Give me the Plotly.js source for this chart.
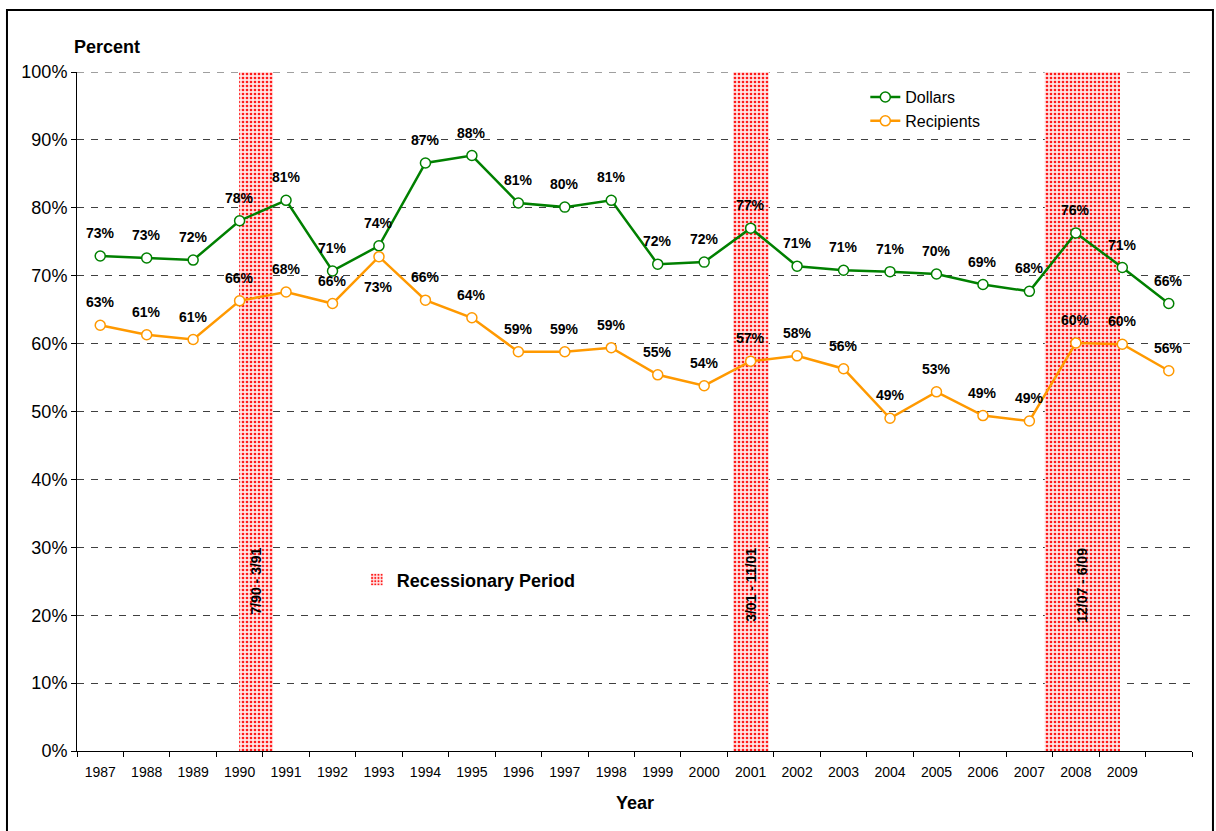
<!DOCTYPE html>
<html>
<head>
<meta charset="utf-8">
<script src="https://cdn.plot.ly/plotly-3.0.1.min.js"></script>
<style>html,body{margin:0;padding:0;background:#fff;}#chart{width:1216px;height:831px;}</style>
</head>
<body>
<div id="chart"></div>
<script>
// Category tick labels (24 categories; the last one is unlabeled in the original)
const yearLabels = ['1987','1988','1989','1990','1991','1992','1993','1994','1995','1996','1997','1998',
  '1999','2000','2001','2002','2003','2004','2005','2006','2007','2008','2009',''];

// Series values (percent)
const dollars = [72.9, 72.6, 72.3, 78.1, 81.1, 70.7, 74.4, 86.6, 87.7, 80.7, 80.1, 81.1,
  71.7, 72.0, 77.0, 71.4, 70.8, 70.6, 70.25, 68.7, 67.7, 76.3, 71.2, 65.9];
const recipients = [62.7, 61.3, 60.6, 66.3, 67.6, 65.9, 72.8, 66.4, 63.8, 58.8, 58.8, 59.4,
  55.4, 53.8, 57.4, 58.2, 56.3, 49.0, 52.9, 49.4, 48.6, 60.1, 59.9, 56.0];

// Recessionary periods, given as positions on the category index scale
const recLabels = ['7/90 - 3/91', '3/01 - 11/01', '12/07 - 6/09'];
const recStart = [2.99, 13.62, 20.33];
const recEnd = [3.72, 14.39, 21.95];

const FONT = 'Arial, "Liberation Sans", sans-serif';
const GREEN = '#008000';
const ORANGE = '#FF9900';
const YMAX = 100;

const idx = yearLabels.map((_, i) => i);
const recMid = recStart.map((s, i) => (s + recEnd[i]) / 2);
const recWidth = recStart.map((s, i) => recEnd[i] - s);

const traces = [
  {
    type: 'bar', name: 'Recessionary Period', legend: 'legend2',
    x: recMid, y: recMid.map(() => YMAX), base: 0, width: recWidth,
    marker: {
      color: '#ffe4e4', line: {width: 0},
      pattern: {shape: '.', fgcolor: '#ff1a1a', bgcolor: '#ffe6e6', size: 4, solidity: 0.35}
    },
    hoverinfo: 'skip'
  },
  {
    type: 'scatter', mode: 'lines+markers', name: 'Dollars', x: idx, y: dollars,
    line: {color: GREEN, width: 2.5},
    marker: {symbol: 'circle', size: 10, color: '#ffffff', line: {color: GREEN, width: 1.5}}
  },
  {
    type: 'scatter', mode: 'lines+markers', name: 'Recipients', x: idx, y: recipients,
    line: {color: ORANGE, width: 2.5},
    marker: {symbol: 'circle', size: 10, color: '#ffffff', line: {color: ORANGE, width: 1.5}}
  }
];

const annotations = [];
dollars.forEach((v, i) => {
  annotations.push({x: i, y: v, xref: 'x', yref: 'y', text: Math.round(v) + '%', showarrow: false,
    yshift: 23, font: {family: FONT, size: 14, color: '#000', weight: 'bold'}});
});
recipients.forEach((v, i) => {
  const below = (i === 6);
  annotations.push({x: i, y: v, xref: 'x', yref: 'y', text: Math.round(v) + '%', showarrow: false,
    yshift: below ? -30 : 23, font: {family: FONT, size: 14, color: '#000', weight: 'bold'}});
});
recLabels.forEach((t, i) => {
  annotations.push({x: recMid[i], y: 30.2, xref: 'x', yref: 'y', text: '<b>' + t + '</b>', showarrow: false,
    textangle: -90, yanchor: 'top', xanchor: 'center', font: {family: FONT, size: 14, color: '#000'}});
});
annotations.push({x: -0.0045, y: 1.0368, xref: 'paper', yref: 'paper', xanchor: 'left', yanchor: 'middle',
  text: '<b>Percent</b>', showarrow: false, font: {family: FONT, size: 18, color: '#000'}});
annotations.push({x: 0.5, y: -0.0766, xref: 'paper', yref: 'paper', xanchor: 'center', yanchor: 'middle',
  text: '<b>Year</b>', showarrow: false, font: {family: FONT, size: 18, color: '#000'}});

const layout = {
  width: 1216, height: 831,
  margin: {l: 77, r: 24, t: 72, b: 80},
  paper_bgcolor: '#ffffff', plot_bgcolor: '#ffffff',
  font: {family: FONT, color: '#000'},
  showlegend: true,
  hovermode: false,
  barmode: 'overlay',
  xaxis: {
    type: 'linear', range: [-0.5, yearLabels.length - 0.5],
    tickmode: 'array', tickvals: idx, ticktext: yearLabels,
    ticks: '', showgrid: false, zeroline: false,
    showline: true, linecolor: '#000', linewidth: 1,
    tickfont: {family: FONT, size: 14, color: '#000'},
    ticklabelstandoff: 8,
    minor: {tickmode: 'array', tickvals: idx.concat([yearLabels.length]).map(i => i - 0.5),
      ticks: 'outside', ticklen: 5, tickcolor: '#000', tickwidth: 1, showgrid: false}
  },
  yaxis: {
    range: [0, YMAX], dtick: 10, tick0: 0, ticksuffix: '%',
    showgrid: true, gridcolor: '#404040', gridwidth: 1, griddash: '7px,7px',
    zeroline: false, showline: true, linecolor: '#000', linewidth: 1,
    ticks: 'outside', ticklen: 5, tickcolor: '#000',
    tickfont: {family: FONT, size: 18, color: '#000'}
  },
  legend: {
    x: 0.707, y: 0.988, xanchor: 'left', yanchor: 'top',
    bgcolor: 'rgba(0,0,0,0)', font: {family: FONT, size: 16, color: '#000'},
    tracegroupgap: 0
  },
  legend2: {
    x: 0.251, y: 0.252, xanchor: 'left', yanchor: 'middle',
    bgcolor: 'rgba(0,0,0,0)', font: {family: FONT, size: 18, color: '#000', weight: 'bold'}
  },
  shapes: [
    // dashed gridline at the top of the range (Plotly omits the one on the edge)
    {type: 'line', xref: 'paper', yref: 'y', x0: 0, x1: 1, y0: YMAX, y1: YMAX,
      line: {color: '#404040', width: 1, dash: '7px,7px'}, layer: 'below'},
    {type: 'rect', xref: 'paper', yref: 'paper', x0: -0.0628, x1: 1.0188, y0: -0.14, y1: 1.0913,
      line: {color: '#000', width: 2}, fillcolor: 'rgba(0,0,0,0)', layer: 'above'}
  ],
  annotations: annotations
};

Plotly.newPlot('chart', traces, layout, {displayModeBar: false, staticPlot: true});
</script>
</body>
</html>
